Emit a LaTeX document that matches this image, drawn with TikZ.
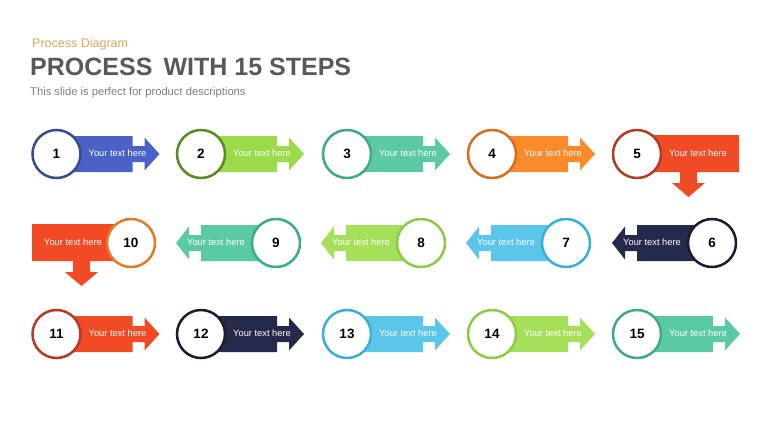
\documentclass[tikz,border=0pt]{standalone}
\usepackage{fontspec}
\setmainfont{Liberation Sans}
\definecolor{fBlue}{HTML}{4A62C8}\definecolor{bBlue}{HTML}{3A4A8E}
\definecolor{fGreen}{HTML}{9CDB4C}\definecolor{bGreen}{HTML}{5B8A25}
\definecolor{fTeal}{HTML}{5CC9A6}\definecolor{bTeal}{HTML}{3EAA8A}
\definecolor{fOrange}{HTML}{F98B2B}\definecolor{bOrange}{HTML}{D46E20}
\definecolor{fRed}{HTML}{F04B25}\definecolor{bRed}{HTML}{B53A28}
\definecolor{fNavy}{HTML}{262A4A}\definecolor{bNavy}{HTML}{1B1C2E}
\definecolor{fSky}{HTML}{5BC6EA}\definecolor{bSky}{HTML}{3AB0D8}
\definecolor{fLime}{HTML}{A6E05A}\definecolor{bLime}{HTML}{8BCB45}
\definecolor{bOrange2}{HTML}{E07B2A}
\definecolor{cTitle}{HTML}{595959}
\definecolor{cSub}{HTML}{7F7F7F}
\definecolor{cKicker}{HTML}{E4A35C}
\begin{document}
\begin{tikzpicture}[x=1pt,y=-1pt,
  numcirc/.style={circle,draw=#1,line width=2.5pt,fill=white,minimum size=48pt,inner sep=0pt,
    font=\fontsize{13.5}{14}\selectfont\bfseries,text=black},
  txt/.style={text=white,font=\fontsize{9.3}{10}\selectfont,inner sep=0pt},
  rarrow/.pic={\fill[pic actions] (0,-18) -- (76,-18) -- (76,-8) -- (88,-8) -- (88,-16.5)
      -- (103,0) -- (88,16.5) -- (88,8) -- (76,8) -- (76,18) -- (0,18) -- cycle;},
  larrow/.pic={\fill[pic actions] (0,-18) -- (-75,-18) -- (-75,-8) -- (-87,-8) -- (-87,-16.5)
      -- (-100,0) -- (-87,16.5) -- (-87,8) -- (-75,8) -- (-75,18) -- (0,18) -- cycle;},
  darrow/.pic={\fill[pic actions] (0,-19) -- (102,-19) -- (102,18) -- (60,18) -- (60,29)
      -- (68,29) -- (51.5,43) -- (35,29) -- (43,29) -- (43,18) -- (0,18) -- cycle;},
  dlarrow/.pic={\fill[pic actions] (0,-19) -- (-99,-19) -- (-99,18) -- (-58,18) -- (-58,29)
      -- (-66,29) -- (-49.5,43) -- (-33,29) -- (-41,29) -- (-41,18) -- (0,18) -- cycle;}
]
\useasboundingbox (0,0) rectangle (768,432);
\fill[white] (0,0) rectangle (768,432);

% header
\node[anchor=base west,inner sep=0pt,text=cKicker,font=\fontsize{12.5}{13}\selectfont] (kick) at (32,47) {Process Diagram};
\node[anchor=base west,inner sep=0pt,text=cTitle,font=\fontsize{25}{26}\selectfont\bfseries] (title) at (30,75) {PROCESS\, WITH 15 STEPS};
\node[anchor=base west,inner sep=0pt,text=cSub,font=\fontsize{11.2}{12}\selectfont] (sub) at (30,95) {This slide is perfect for product descriptions};

% arrows
\pic[fill=fBlue]   at (56.5,154) {rarrow};
\pic[fill=fGreen]  at (201,154) {rarrow};
\pic[fill=fTeal]   at (347,154) {rarrow};
\pic[fill=fOrange] at (492,154) {rarrow};
\pic[fill=fRed]    at (637,154) {darrow};

\pic[fill=fRed]  at (131,243) {dlarrow};
\pic[fill=fTeal] at (276,243) {larrow};
\pic[fill=fLime] at (421,243) {larrow};
\pic[fill=fSky]  at (566,243) {larrow};
\pic[fill=fNavy] at (712,243) {larrow};

\pic[fill=fRed]   at (56.5,334) {rarrow};
\pic[fill=fNavy]  at (201,334) {rarrow};
\pic[fill=fSky]   at (347,334) {rarrow};
\pic[fill=fLime]  at (492,334) {rarrow};
\pic[fill=fTeal]  at (637,334) {rarrow};

% circles
\node[numcirc=bBlue]   (c1) at (56.5,154) {1};
\node[numcirc=bGreen]  (c2) at (201,154) {2};
\node[numcirc=bTeal]   (c3) at (347,154) {3};
\node[numcirc=bOrange] (c4) at (492,154) {4};
\node[numcirc=bRed]    (c5) at (637,154) {5};

\node[numcirc=bNavy]    (c6) at (712,243) {6};
\node[numcirc=bSky]     (c7) at (566,243) {7};
\node[numcirc=bLime]    (c8) at (421,243) {8};
\node[numcirc=bTeal]    (c9) at (276,243) {9};
\node[numcirc=bOrange2] (c10) at (131,243) {10};

\node[numcirc=bRed]   (c11) at (56.5,334) {11};
\node[numcirc=bNavy]  (c12) at (201,334) {12};
\node[numcirc=bSky]   (c13) at (347,334) {13};
\node[numcirc=bLime]  (c14) at (492,334) {14};
\node[numcirc=bTeal]  (c15) at (637,334) {15};

% texts
\node[txt] (t1) at (117.5,153) {Your text here};
\node[txt] (t2) at (262,153) {Your text here};
\node[txt] (t3) at (408,153) {Your text here};
\node[txt] (t4) at (553,153) {Your text here};
\node[txt] (t5) at (698,153) {Your text here};

\node[txt] (t6) at (652,242) {Your text here};
\node[txt] (t7) at (506,242) {Your text here};
\node[txt] (t8) at (361,242) {Your text here};
\node[txt] (t9) at (216,242) {Your text here};
\node[txt] (t10) at (73,242) {Your text here};

\node[txt] (t11) at (117.5,333) {Your text here};
\node[txt] (t12) at (262,333) {Your text here};
\node[txt] (t13) at (408,333) {Your text here};
\node[txt] (t14) at (553,333) {Your text here};
\node[txt] (t15) at (698,333) {Your text here};
\end{tikzpicture}
\end{document}
